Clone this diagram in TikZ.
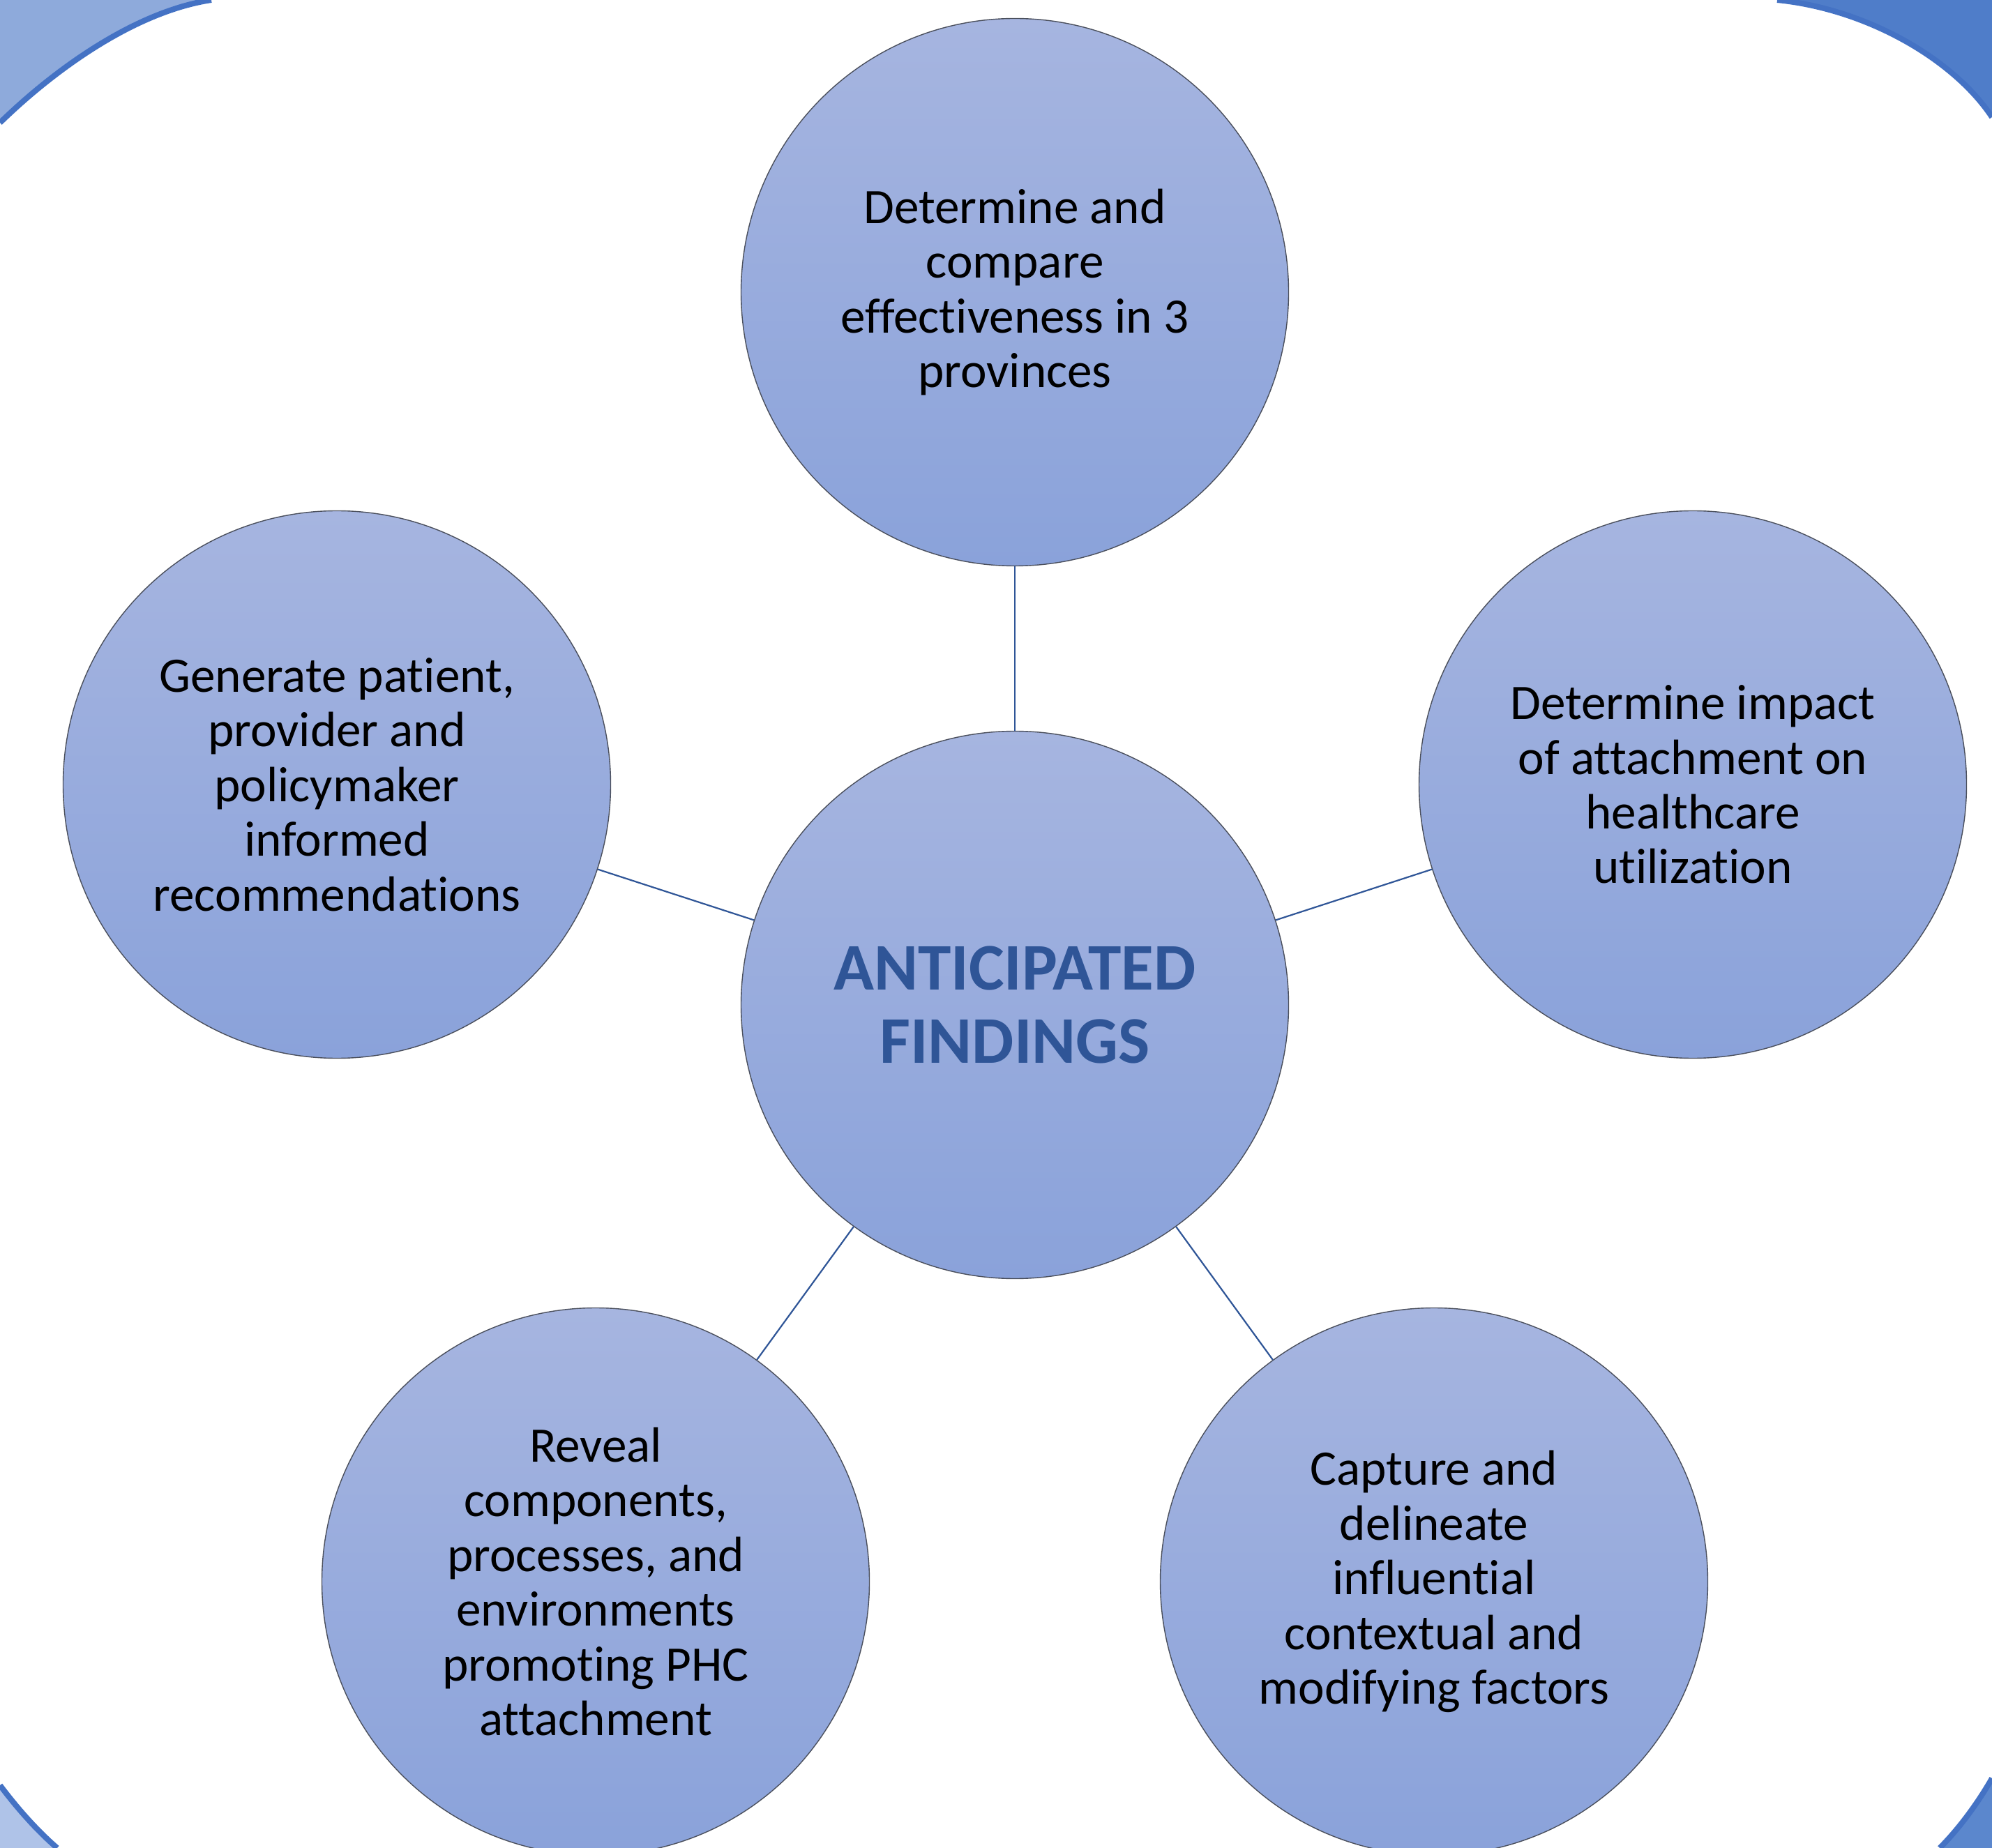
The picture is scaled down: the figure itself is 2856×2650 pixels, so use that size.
\documentclass[tikz,border=0pt]{standalone}
\usepackage{fontspec}
\setmainfont[Ligatures={NoCommon,NoRare,NoContextual}]{Carlito}
\definecolor{frameblue}{HTML}{4472C4}
\definecolor{tlfill}{HTML}{8EAADB}
\definecolor{trfill}{HTML}{4F7DC9}
\definecolor{blfill}{HTML}{AFC3E8}
\definecolor{brfill}{HTML}{5B87CD}
\definecolor{circtop}{HTML}{A6B5E0}
\definecolor{circbot}{HTML}{8AA2DA}
\definecolor{bubbleedge}{HTML}{4A4F5C}
\definecolor{titleblue}{HTML}{2F5597}
\definecolor{linkblue}{HTML}{2F5597}
\begin{document}
\begin{tikzpicture}[x=0.25pt,y=-0.25pt,
  bubble/.style={circle, minimum size=196.25pt, inner sep=0pt, draw=bubbleedge,
    line width=0.35pt, top color=circtop, bottom color=circbot, align=center,
    font=\fontsize{17.8}{19.6}\selectfont, text=black},
  hub/.style={bubble, font=\fontsize{23.9}{26.4}\selectfont\bfseries, text=titleblue},
  link/.style={draw=linkblue, line width=0.55pt},
  frameline/.style={draw=frameblue, line width=2pt}]
\useasboundingbox (0,0) rectangle (2856,2650);
\fill[white] (0,0) rectangle (2856,2650);
% corner regions of the frame
\fill[tlfill] (0,176) .. controls (79,99) and (194,16.5) .. (303,0) -- (0,0) -- cycle;
\draw[frameline] (0,176) .. controls (79,99) and (194,16.5) .. (303,0);
\fill[trfill] (2548,0) .. controls (2677,13) and (2801,85) .. (2856,168) -- (2856,0) -- cycle;
\draw[frameline] (2548,0) .. controls (2677,13) and (2801,85) .. (2856,168);
\fill[blfill] (0,2560) .. controls (24,2592) and (52,2624) .. (82,2650) -- (0,2650) -- cycle;
\draw[frameline] (0,2560) .. controls (24,2592) and (52,2624) .. (82,2650);
\fill[brfill] (2781,2650) .. controls (2809,2622) and (2836,2585) .. (2856,2550) -- (2856,2650) -- cycle;
\draw[frameline] (2781,2650) .. controls (2809,2622) and (2836,2585) .. (2856,2550);
% bubbles
\node[hub] (hub) at (1455,1441) {ANTICIPATED\\FINDINGS};
\node[bubble] (top) at (1455,419) {Determine and\\compare\\effectiveness in 3\\provinces};
\node[bubble] (right) at (2427,1125) {Determine impact\\of attachment on\\healthcare\\utilization};
\node[bubble] (left) at (483,1125) {Generate patient,\\provider and\\policymaker\\informed\\recommendations};
\node[bubble] (botleft) at (854,2268) {Reveal\\components,\\processes, and\\environments\\promoting PHC\\attachment};
\node[bubble] (botright) at (2056,2268) {Capture and\\delineate\\influential\\contextual and\\modifying factors};
% connectors
\draw[link] (hub) -- (top);
\draw[link] (hub) -- (right);
\draw[link] (hub) -- (left);
\draw[link] (hub) -- (botleft);
\draw[link] (hub) -- (botright);
\end{tikzpicture}
\end{document}
